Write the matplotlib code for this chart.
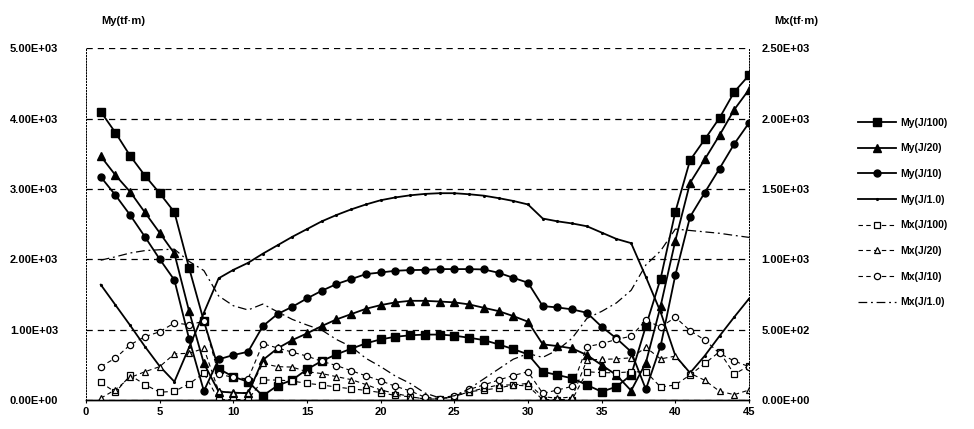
import matplotlib
matplotlib.use("Agg")
import matplotlib.pyplot as plt
from matplotlib.ticker import FuncFormatter, MultipleLocator

plt.rcParams['font.family'] = ['Liberation Sans', 'DejaVu Sans']
plt.rcParams['font.weight'] = 'bold'

# section number
x = list(range(1, 46))

# My (left axis, tf*m)
my_100 = [4100, 3800, 3470, 3190, 2940, 2670, 1875, 1120, 445, 330,
          260, 60, 205, 285, 436, 554, 649, 729, 805, 862,
          899, 920, 930, 930, 915, 885, 852, 791, 724, 649,
          402, 355, 308, 213, 118, 189, 355, 1051, 1725, 2675,
          3409, 3707, 4010, 4380, 4617]
my_20 = [3466, 3196, 2959, 2666, 2377, 2083, 1260, 521, 120, 105,
         95, 568, 734, 852, 947, 1051, 1146, 1221, 1297, 1349,
         1388, 1410, 1410, 1400, 1388, 1359, 1311, 1264, 1193, 1113,
         791, 767, 734, 639, 497, 355, 133, 530, 1335, 2265,
         3087, 3423, 3764, 4129, 4413]
my_10 = [3172, 2912, 2628, 2320, 2003, 1705, 866, 128, 578, 639,
         686, 1050, 1222, 1325, 1444, 1553, 1648, 1719, 1790, 1813,
         1837, 1847, 1850, 1861, 1861, 1861, 1856, 1809, 1737, 1667,
         1335, 1316, 1288, 1240, 1042, 876, 686, 152, 765, 1776,
         2604, 2950, 3291, 3641, 3939]
my_1 = [1640, 1350, 1060, 760, 480, 260, 750, 1240, 1730, 1850,
        1950, 2080, 2200, 2320, 2430, 2540, 2630, 2710, 2780, 2840,
        2880, 2910, 2930, 2940, 2940, 2925, 2905, 2870, 2830, 2780,
        2580, 2540, 2510, 2470, 2380, 2290, 2230, 1750, 1250, 630,
        385, 630, 910, 1180, 1440]

# Mx (right axis, tf*m)
mx_100 = [125, 55, 175, 110, 55, 62, 115, 190, 3, 3,
          3, 142, 142, 135, 118, 107, 92, 80, 68, 53,
          32, 23, 7, 7, 24, 59, 71, 85, 107, 99,
          3, 3, 3, 201, 194, 194, 200, 201, 92, 107,
          178, 260, 343, 184, 243]
mx_20 = [12, 74, 160, 201, 237, 328, 332, 367, 65, 50,
         52, 260, 237, 234, 201, 188, 166, 145, 110, 71,
         47, 24, 7, 7, 24, 59, 83, 107, 107, 118,
         24, 12, 22, 284, 289, 292, 300, 374, 292, 312,
         190, 140, 62, 38, 71]
mx_10 = [237, 298, 393, 450, 485, 548, 535, 560, 185, 160,
         150, 400, 370, 340, 312, 275, 245, 208, 172, 137,
         97, 65, 20, 10, 25, 75, 107, 142, 174, 201,
         47, 71, 97, 379, 400, 431, 453, 568, 518, 588,
         493, 426, 332, 277, 237]
mx_1 = [994, 1018, 1045, 1062, 1068, 1072, 985, 920, 740, 670,
        640, 682, 627, 573, 533, 497, 430, 379, 296, 237,
        170, 118, 50, 15, 30, 80, 150, 220, 290, 330,
        303, 355, 440, 580, 630, 690, 780, 960, 1060, 1215,
        1205, 1195, 1185, 1170, 1156]

fig = plt.figure(figsize=(9.74, 4.29), dpi=100)
ax = fig.add_axes([0.0883, 0.0676, 0.6807, 0.8198])
ax2 = ax.twinx()

dash = (0, (4, 3))
h1, = ax.plot(x, my_100, color="black", lw=1.3, marker="s", ms=5.5, label="My(J/100)")
h2, = ax.plot(x, my_20, color="black", lw=1.3, marker="^", ms=5.5, label="My(J/20)")
h3, = ax.plot(x, my_10, color="black", lw=1.3, marker="o", ms=5, label="My(J/10)")
h4, = ax.plot(x, my_1, color="black", lw=1.3, marker=".", ms=2.5, label="My(J/1.0)")

h5, = ax2.plot(x, mx_100, color="black", lw=0.8, ls=dash, marker="s", ms=4.5,
               mfc="white", mew=0.9, label="Mx(J/100)")
h6, = ax2.plot(x, mx_20, color="black", lw=0.8, ls=dash, marker="^", ms=4.5,
               mfc="white", mew=0.9, label="Mx(J/20)")
h7, = ax2.plot(x, mx_10, color="black", lw=0.8, ls=dash, marker="o", ms=4.5,
               mfc="white", mew=0.9, label="Mx(J/10)")
h8, = ax2.plot(x, mx_1, color="black", lw=0.9, ls=(0, (7, 3, 1.5, 3)), label="Mx(J/1.0)")

ax.set_xlim(0, 45)
ax.set_ylim(0, 5000)
ax2.set_ylim(0, 2500)
ax.xaxis.set_major_locator(MultipleLocator(5))
ax.yaxis.set_major_locator(MultipleLocator(1000))
ax2.yaxis.set_major_locator(MultipleLocator(500))

sci = FuncFormatter(lambda v, p: "%.2E" % v)
ax.yaxis.set_major_formatter(sci)
ax2.yaxis.set_major_formatter(sci)

ax.yaxis.grid(True, color="black", ls=(0, (5, 4)), lw=0.9)
ax.set_axisbelow(True)

for a in (ax, ax2):
    a.spines["top"].set_visible(False)
    a.spines["left"].set_linestyle((0, (1, 2)))
    a.spines["left"].set_linewidth(0.7)
    a.spines["right"].set_linestyle((0, (1, 2)))
    a.spines["right"].set_linewidth(0.7)
    a.spines["bottom"].set_linewidth(1.0)

ax.tick_params(axis="y", length=0, pad=20, labelsize=8)
ax2.tick_params(axis="y", length=0, pad=9, labelsize=8)
ax.tick_params(axis="x", length=2, pad=3, labelsize=8)

fig.text(0.127, 0.952, "My(tf·m)", ha="center", va="center", fontsize=8, fontweight="bold")
fig.text(0.818, 0.952, "Mx(tf·m)", ha="center", va="center", fontsize=8, fontweight="bold")

fig.legend(handles=[h1, h2, h3, h4, h5, h6, h7, h8], loc="upper left",
           bbox_to_anchor=(0.877, 0.735), frameon=False, fontsize=7.5,
           handlelength=3.6, handletextpad=0.4, labelspacing=1.5, borderaxespad=0)

fig.savefig("out.png", dpi=100)
